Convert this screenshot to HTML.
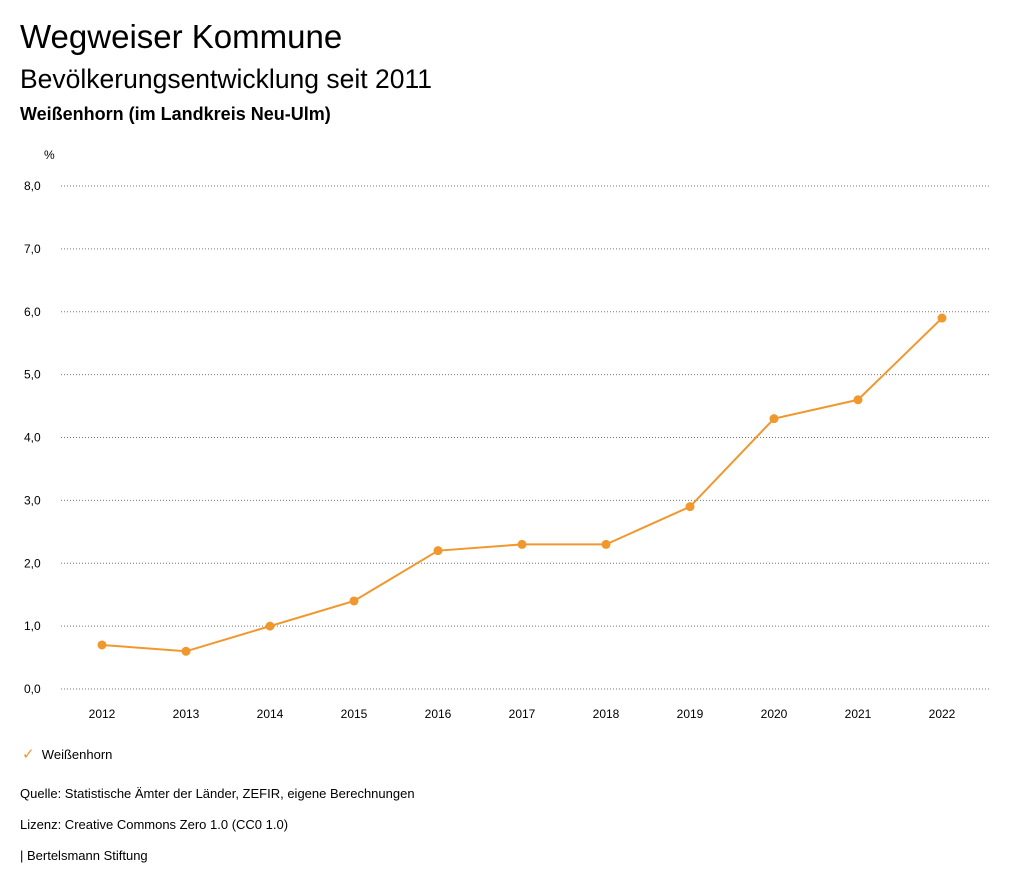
<!DOCTYPE html>
<html><head><meta charset="utf-8">
<style>
body{margin:0;background:#fff;font-family:"Liberation Sans",sans-serif;color:#000;}
#wrap{position:relative;width:1024px;height:888px;overflow:hidden;}
.t{position:absolute;white-space:nowrap;}
</style></head><body>
<div id="wrap">
<div class="t" style="left:20px;top:18px;font-size:33px;">Wegweiser Kommune</div>
<div class="t" style="left:20px;top:64px;font-size:26.5px;">Bevölkerungsentwicklung seit 2011</div>
<div class="t" style="left:20px;top:104px;font-size:18px;font-weight:bold;">Weißenhorn (im Landkreis Neu-Ulm)</div>
<svg id="chart" width="1024" height="888" style="position:absolute;left:0;top:0"></svg>
<div class="t" style="left:22px;top:745px;font-size:13px;"><span style="color:#f0982d;font-size:15px;">✓</span>&nbsp;&nbsp;Weißenhorn</div>
<div class="t" style="left:20px;top:786px;font-size:13px;">Quelle: Statistische Ämter der Länder, ZEFIR, eigene Berechnungen</div>
<div class="t" style="left:20px;top:817px;font-size:13px;">Lizenz: Creative Commons Zero 1.0 (CC0 1.0)</div>
<div class="t" style="left:20px;top:848px;font-size:13px;">| Bertelsmann Stiftung</div>
</div>
<script>
const years=["2012","2013","2014","2015","2016","2017","2018","2019","2020","2021","2022"];
const values=[0.7,0.6,1.0,1.4,2.2,2.3,2.3,2.9,4.3,4.6,5.9];
const yTicks=[0,1,2,3,4,5,6,7,8];
const NS="http://www.w3.org/2000/svg";
const svg=document.getElementById('chart');
const x=i=>102+i*84;
const y=v=>689-v*62.875;
function mk(t,a){const e=document.createElementNS(NS,t);for(const k in a)e.setAttribute(k,a[k]);svg.appendChild(e);return e;}
const u=mk('text',{x:44,y:159,'font-size':12});u.textContent='%';


yTicks.forEach(v=>{
 const l=mk('line',{x1:61,x2:991,y1:y(v),y2:y(v),stroke:'#777','stroke-width':1,'stroke-dasharray':'1,2'});
 
 
 const t=mk('text',{x:24,y:y(v)+4,'font-size':12});
 t.textContent=v.toFixed(1).replace('.',',');
 
 
});
years.forEach((yr,i)=>{
 const t=mk('text',{x:x(i),y:718,'font-size':12,'text-anchor':'middle'});
 t.textContent=yr;
 
 
});
const p=mk('polyline',{points:values.map((v,i)=>x(i)+','+y(v)).join(' '),fill:'none',stroke:'#f0982d','stroke-width':2});


values.forEach((v,i)=>{
 const c=mk('circle',{cx:x(i),cy:y(v),r:4.5,fill:'#f0982d'});
 
 
});
</script>
</body></html>
